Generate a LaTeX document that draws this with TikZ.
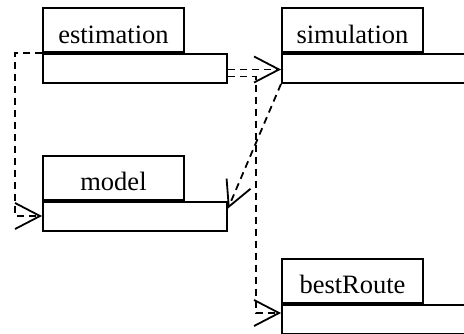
\documentclass[tikz,border=0pt]{standalone}
\usepackage{fontspec}
\setmainfont{Liberation Serif}
\usetikzlibrary{positioning,arrows.meta}

\tikzset{
  pkg/.style={draw, line width=2pt, minimum width=184pt, minimum height=29pt, inner sep=0pt},
  pkgtab/.style={draw, line width=2pt, minimum width=141pt, inner sep=0pt,
    text height=35pt, text depth=9pt, font=\fontsize{26.5}{30}\selectfont},
  dep/.style={line width=1.8pt, dash pattern=on 7pt off 5pt,
    -{Straight Barb[length=25pt,width=26pt]}}
}

\begin{document}
\begin{tikzpicture}[x=1pt,y=1pt]
  \clip (0,0) rectangle (464,333);

  % package bodies
  \node[pkg] (estimation) at (135,264.5) {};
  \node[pkg] (simulation) at (374,264.5) {};
  \node[pkg] (model) at (135,117) {};
  \node[pkg] (bestRoute) at (374,14) {};

  % name tabs
  \node[pkgtab, above right=0pt and 0pt of estimation.north west] (estimationtab) {estimation};
  \node[pkgtab, above right=0pt and 0pt of simulation.north west] (simulationtab) {simulation};
  \node[pkgtab, above right=0pt and 0pt of model.north west] (modeltab) {model};
  \node[pkgtab, above right=0pt and 0pt of bestRoute.north west] (bestRoutetab) {bestRoute};

  % dependencies
  \draw[dep] (estimation.north west) -- ++(-27,0) |- (model.west);
  \draw[dep] ([yshift=-1pt]estimation.east) -- ([yshift=-1pt]simulation.west);
  \draw[dep] ([yshift=-8pt]estimation.east) -- ++(28,0) |- ([yshift=6pt]bestRoute.west);
  \draw[dep] (simulation.south west) -- ([yshift=-8pt]model.north east);
\end{tikzpicture}
\end{document}
